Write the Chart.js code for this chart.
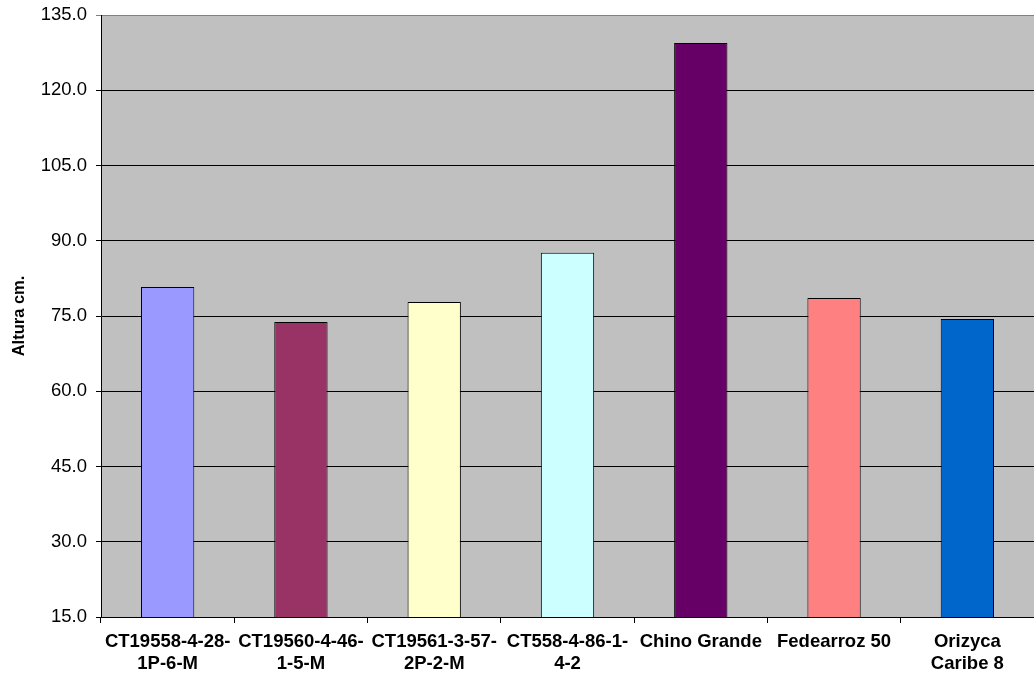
<!DOCTYPE html>
<html>
<head>
<meta charset="utf-8">
<script src="https://cdn.jsdelivr.net/npm/chart.js@4"></script>
<style>
  html, body { margin: 0; padding: 0; background: #fff; }
  #chart { display: block; }
</style>
</head>
<body>
<canvas id="chart" width="1034" height="679"></canvas>
<script>
const categories = [
  ['CT19558-4-28-', '1P-6-M'],
  ['CT19560-4-46-', '1-5-M'],
  ['CT19561-3-57-', '2P-2-M'],
  ['CT558-4-86-1-', '4-2'],
  'Chino Grande',
  'Fedearroz 50',
  ['Orizyca', 'Caribe 8']
];
const heights = [80.8, 73.8, 77.8, 87.6, 129.4, 78.6, 74.4];
const barColors = ['#9999FF', '#993366', '#FFFFCC', '#CCFFFF', '#660066', '#FF8080', '#0066CC'];
const yMin = 15, yMax = 135, yStep = 15;

const FONT = "'Liberation Sans', Arial, sans-serif";

// grey plot background, like the old spreadsheet charts
const plotBackground = {
  id: 'plotBackground',
  beforeDraw(chart) {
    const { ctx, chartArea: a } = chart;
    ctx.save();
    ctx.fillStyle = '#C0C0C0';
    ctx.fillRect(a.left, a.top, a.right - a.left, a.bottom - a.top);
    ctx.restore();
  }
};

new Chart(document.getElementById('chart'), {
  type: 'bar',
  data: {
    labels: categories,
    datasets: [{
      data: heights,
      backgroundColor: barColors,
      borderColor: '#000',
      borderWidth: 1,
      barPercentage: 0.4,
      categoryPercentage: 1
    }]
  },
  options: {
    responsive: false,
    animation: false,
    layout: { padding: { top: 15, right: 0, left: 0, bottom: 0 } },
    plugins: {
      legend: { display: false },
      tooltip: { enabled: false }
    },
    scales: {
      x: {
        offset: true,
        grid: {
          offset: true,
          drawOnChartArea: false,
          drawTicks: true,
          tickLength: 6,
          color: '#000'
        },
        border: { color: '#000', width: 1 },
        ticks: {
          color: '#000',
          autoSkip: false,
          maxRotation: 0,
          padding: 8,
          font: { family: FONT, size: 18.5, weight: 'bold', lineHeight: 1.2 }
        },
        afterFit(s) { s.height = 62; }
      },
      y: {
        min: yMin,
        max: yMax,
        grid: {
          color: ctx => (ctx.tick && ctx.tick.value === yMax) ? '#808080' : '#000',
          tickLength: 5,
          drawTicks: true
        },
        border: { color: '#000', width: 1 },
        ticks: {
          stepSize: yStep,
          color: '#000',
          padding: 9,
          font: { family: FONT, size: 18.5 },
          callback: v => v.toFixed(1)
        },
        title: {
          display: true,
          text: 'Altura cm.',
          color: '#000',
          padding: { top: 10, bottom: 6 },
          font: { family: FONT, size: 16.5, weight: 'bold' }
        },
        afterFit(s) {
          s.width = 101;
          // let the outer layout padding decide where the plot starts
          s.paddingTop = 0;
          s.paddingBottom = 0;
        }
      }
    }
  },
  plugins: [plotBackground]
});
</script>
</body>
</html>
